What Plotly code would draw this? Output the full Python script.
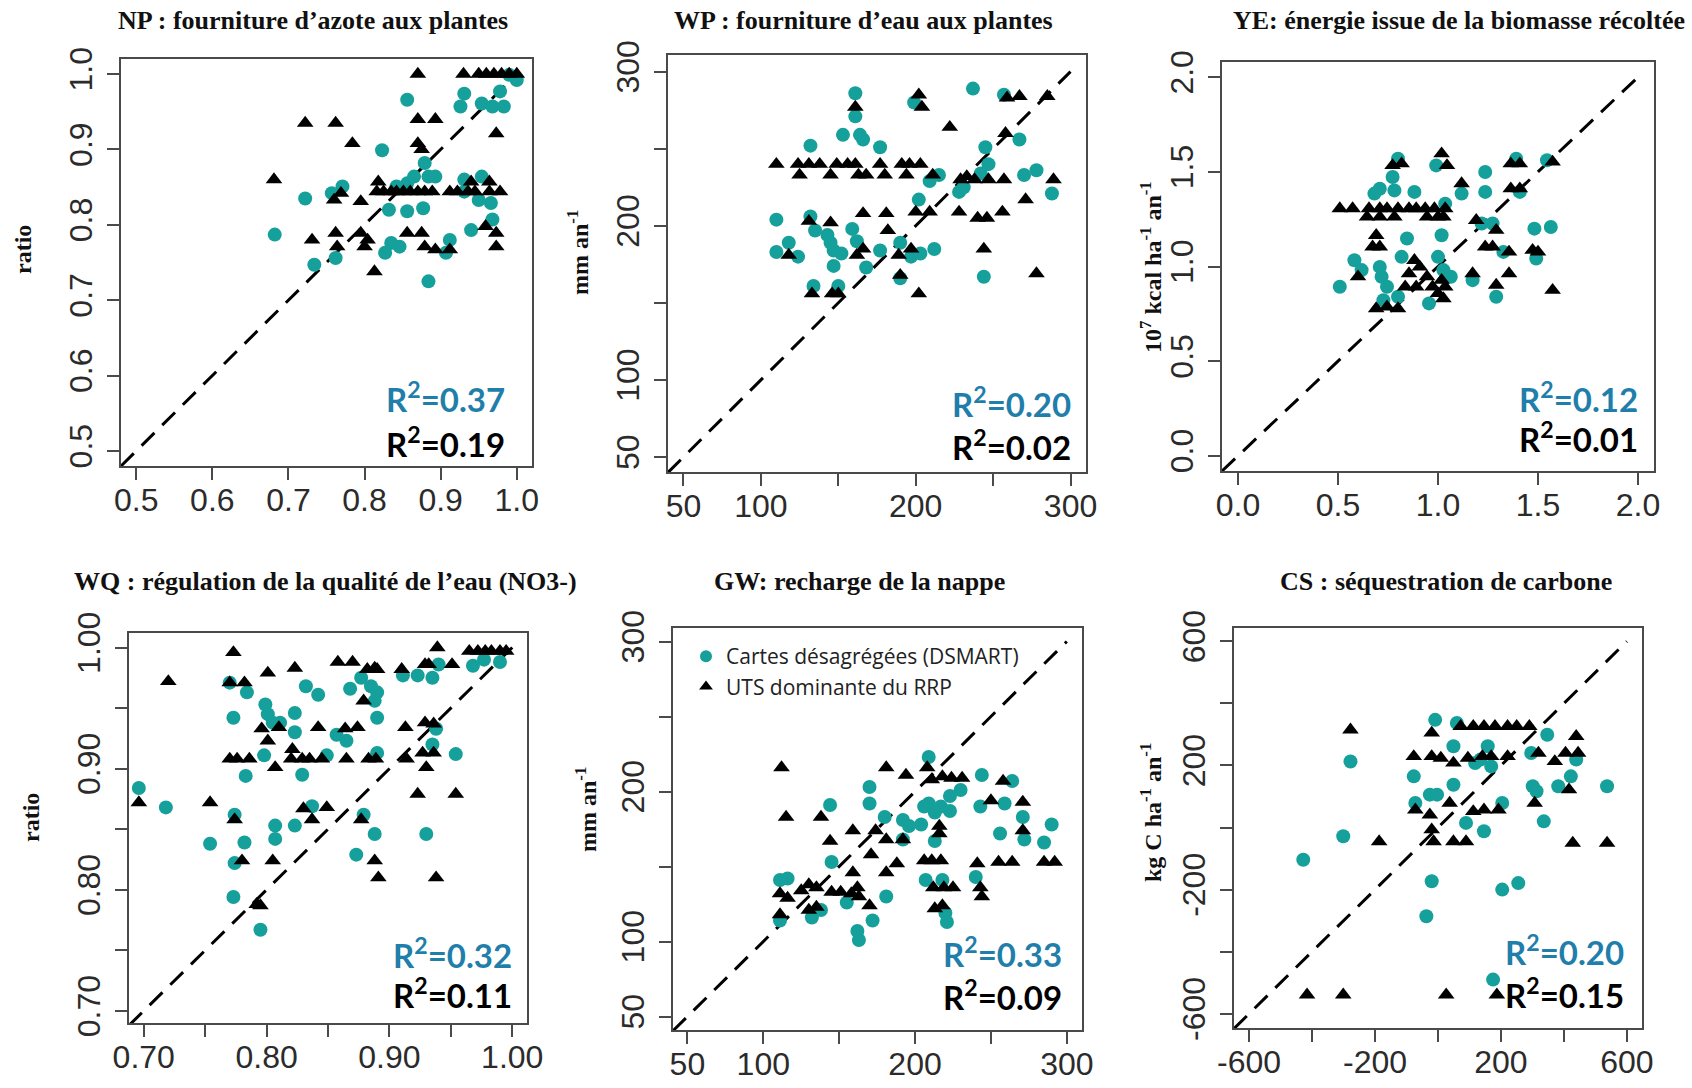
import plotly.graph_objects as go

W, H = 1692, 1088

# ---------------- data ----------------
np_dsmart = [(0.856,0.966),(0.931,0.974),(0.926,0.957),(0.954,0.961),(0.978,0.977),(0.968,0.957),(0.983,0.957),
             (1.0,0.992),(0.99,0.999),(0.823,0.899),(0.879,0.882),(0.884,0.864),(0.893,0.864),(0.856,0.855),
             (0.865,0.864),(0.722,0.835),(0.682,0.787),(0.734,0.747),(0.762,0.756),(0.771,0.851),(0.757,0.842),
             (0.832,0.82),(0.856,0.818),(0.877,0.822),(0.827,0.763),(0.846,0.771),(0.835,0.776),(0.884,0.725),
             (0.912,0.78),(0.907,0.763),(0.94,0.793),(0.95,0.833),(0.954,0.864),(0.931,0.86),(0.968,0.807),
             (0.966,0.829),(0.931,0.844),(0.842,0.851)]
np_uts = [(0.87,1.0),(0.93,1.0),(0.95,1.0),(0.96,1.0),(0.97,1.0),(0.98,1.0),(0.99,1.0),(1.0,1.0),
          (0.722,0.935),(0.762,0.935),(0.784,0.908),(0.87,0.94),(0.893,0.94),(0.87,0.908),(0.875,0.90),
          (0.973,0.921),(0.681,0.86),(0.816,0.844),(0.825,0.844),(0.835,0.844),(0.842,0.844),(0.851,0.844),
          (0.86,0.844),(0.87,0.844),(0.879,0.844),(0.889,0.844),(0.912,0.844),(0.922,0.844),(0.936,0.844),
          (0.945,0.844),(0.964,0.844),(0.978,0.844),(0.818,0.857),(0.94,0.857),(0.964,0.857),(0.76,0.833),
          (0.769,0.842),(0.795,0.831),(0.731,0.78),(0.762,0.789),(0.764,0.771),(0.795,0.789),(0.80,0.771),
          (0.804,0.78),(0.813,0.738),(0.856,0.789),(0.875,0.789),(0.879,0.771),(0.893,0.767),(0.912,0.767),
          (0.959,0.798),(0.973,0.789),(0.973,0.771)]

wp_dsmart = [(161,286),(161,271),(199,280),(237,289),(257,285),(153,259),(164,259),(166,256),(132,252),
             (177,251),(245,251),(267,256),(247,240),(242,234),(270,233),(278,236),(288,221),(228,222),
             (231,225),(202,217),(209,229),(215,233),(110,204),(132,206),(135,197),(143,194),(145,189),
             (110,183),(118,189),(124,180),(147,184),(152,182),(147,174),(159,198),(162,190),(168,173),
             (177,184),(190,189),(197,180),(203,182),(212,185),(134,161),(150,161),(190,166),(244,167)]
wp_uts = [(161,277),(202,285),(204,277),(222,264),(258,260),(259,283),(267,284),(285,284),
          (110,240),(124,240),(131,240),(138,240),(149,240),(156,240),(161,240),(177,240),(191,240),
          (196,240),(203,240),(125,233),(145,233),(163,233),(168,233),(180,233),(194,233),(211,233),
          (229,230),(233,232),(238,230),(247,230),(257,230),(289,230),(271,217),(228,209),(240,205),
          (246,205),(256,209),(166,208),(181,208),(200,209),(209,209),(131,203),(145,202),(182,197),
          (118,181),(166,185),(162,181),(189,181),(197,185),(244,185),(190,168),(278,169),
          (133,156),(146,156),(150,156),(202,156)]

ye_dsmart = [(0.8,1.569),(0.991,1.534),(0.773,1.473),(0.709,1.411),(0.682,1.385),(0.782,1.402),(0.882,1.394),
             (1.236,1.499),(1.236,1.394),(1.391,1.569),(1.545,1.561),(1.409,1.394),(1.036,1.332),(1.118,1.385),
             (0.845,1.148),(1.018,1.165),(1.218,1.227),(1.273,1.227),(1.482,1.2),(1.564,1.209),(1.327,1.077),
             (1.491,1.042),(0.509,0.893),(0.582,1.033),(0.618,0.981),(0.709,0.998),(0.718,0.946),(0.745,0.893),
             (0.818,1.051),(1.0,1.051),(1.027,0.981),(1.064,0.946),(0.955,0.805),(0.8,0.84),(0.727,0.822),
             (1.173,0.928),(1.291,0.84)]
ye_uts = [(1.018,1.596),(0.773,1.534),(0.818,1.543),(1.045,1.534),(1.118,1.438),(1.364,1.543),(1.409,1.543),
          (1.573,1.552),(1.364,1.411),(1.409,1.411),(0.509,1.306),(0.573,1.306),(0.655,1.306),(0.709,1.306),
          (0.745,1.306),(0.8,1.306),(0.855,1.306),(0.891,1.306),(0.936,1.306),(0.982,1.306),(1.036,1.306),
          (0.645,1.262),(0.709,1.262),(0.782,1.262),(0.945,1.262),(1.0,1.262),(1.027,1.262),(1.191,1.244),
          (1.291,1.192),(0.691,1.165),(0.709,1.104),(0.673,1.104),(1.236,1.104),(1.273,1.104),(1.355,1.077),
          (1.473,1.086),(1.5,1.077),(0.6,0.946),(0.882,1.033),(0.855,0.963),(0.909,0.998),(0.945,0.946),
          (0.973,0.893),(1.018,0.928),(1.0,0.858),(1.027,0.831),(1.036,0.893),(1.173,0.963),(1.355,0.963),
          (1.291,0.902),(1.573,0.875),(0.691,0.778),(0.745,0.787),(0.8,0.778),(0.836,0.893),(0.891,0.893)]

wq_dsmart = [(0.696,0.884),(0.718,0.868),(0.754,0.838),(0.773,0.942),(0.77,0.971),(0.784,0.963),(0.783,0.894),
             (0.774,0.862),(0.774,0.822),(0.773,0.794),(0.782,0.839),(0.795,0.767),(0.799,0.953),(0.801,0.945),
             (0.805,0.938),(0.798,0.911),(0.807,0.853),(0.807,0.842),(0.811,0.938),(0.823,0.946),(0.823,0.93),
             (0.823,0.853),(0.829,0.895),(0.832,0.968),(0.842,0.961),(0.837,0.869),(0.849,0.911),(0.857,0.928),
             (0.865,0.923),(0.868,0.966),(0.873,0.829),(0.879,0.862),(0.877,0.975),(0.885,0.968),(0.89,0.963),
             (0.888,0.956),(0.89,0.942),(0.888,0.846),(0.89,0.913),(0.911,0.977),(0.923,0.977),(0.935,0.975),
             (0.935,0.92),(0.938,0.933),(0.93,0.846),(0.954,0.912),(0.94,0.986),(0.968,0.985),(0.977,0.99),
             (0.99,0.988)]
wq_uts = [(0.696,0.872),(0.72,0.972),(0.754,0.872),(0.773,0.996),(0.77,0.971),(0.782,0.971),(0.77,0.908),
          (0.776,0.908),(0.786,0.908),(0.774,0.858),(0.78,0.824),(0.792,0.788),(0.795,0.787),(0.801,0.979),
          (0.796,0.933),(0.81,0.934),(0.801,0.923),(0.807,0.901),(0.805,0.824),(0.823,0.983),(0.821,0.916),
          (0.82,0.908),(0.829,0.908),(0.835,0.908),(0.830,0.867),(0.837,0.858),(0.842,0.934),(0.845,0.908),
          (0.849,0.868),(0.858,0.988),(0.87,0.988),(0.865,0.908),(0.864,0.933),(0.874,0.934),(0.879,0.956),
          (0.877,0.858),(0.882,0.982),(0.888,0.983),(0.89,0.982),(0.883,0.908),(0.889,0.908),(0.888,0.824),
          (0.891,0.81),(0.91,0.982),(0.913,0.934),(0.914,0.908),(0.923,0.879),(0.929,0.986),(0.932,0.986),
          (0.929,0.938),(0.936,0.937),(0.927,0.913),(0.936,0.913),(0.93,0.901),(0.939,1.0),(0.951,0.986),
          (0.954,0.879),(0.938,0.81),(0.965,0.997),(0.972,0.997),(0.978,0.997),(0.983,0.997),(0.99,0.997),
          (0.995,0.997)]

gw_dsmart = [(111,141),(116,142),(111,114),(132,116),(138,121),(144,191),(145,153),(155,126),(162,107),
             (163,101),(170,203),(170,192),(172,114),(181,130),(180,183),(192,181),(192,168),(196,177),
             (204,178),(209,223),(206,190),(209,192),(213,186),(217,190),(223,187),(207,141),(213,167),
             (218,141),(221,113),(220,119),(223,197),(230,201),(243,190),(244,211),(240,143),(259,192),
             (256,172),(264,207),(271,183),(272,168),(285,166),(290,178)]
gw_uts = [(112,216),(115,183),(111,118),(111,132),(116,129),(125,134),(130,138),(135,136),(130,121),
          (135,123),(138,183),(144,167),(145,133),(151,133),(159,174),(159,146),(158,132),(162,136),
          (163,130),(170,124),(171,158),(174,174),(181,216),(181,168),(192,168),(181,146),(188,152),
          (194,211),(206,154),(211,154),(217,154),(208,216),(211,208),(218,210),(224,209),(231,209),
          (216,177),(216,172),(212,136),(219,136),(213,122),(218,124),(225,136),(241,152),(243,136),
          (244,130),(250,194),(255,153),(264,153),(258,207),(271,193),(271,174),(285,153),(292,153)]

cs_dsmart = [(-428,-104),(-301,-28),(-278,213),(-77,165),(-72,79),(-26,106),(-3,106),(-9,347),(-20,-173),
             (-37,-286),(49,138),(60,337),(49,262),(89,15),(118,208),(146,-12),(158,262),(204,79),
             (204,-200),(255,-179),(175,-490),(301,133),(313,117),(336,20),(296,240),(347,299),(382,133),
             (422,165),(439,219),(537,133),(169,197),(135,219)]
cs_uts = [(-278,315),(-416,-539),(-301,-539),(26,-539),(187,-539),(-187,-45),(428,-50),(537,-50),(-20,305),
          (-77,229),(-20,229),(9,224),(49,208),(95,224),(141,229),(169,229),(221,229),(72,326),(112,326),
          (146,326),(181,326),(221,326),(250,326),(290,326),(319,240),(371,213),(405,240),(445,240),
          (439,294),(416,122),(307,79),(-72,57),(-26,41),(37,79),(112,52),(146,57),(192,57),(-20,-7),
          (-14,-45),(49,-45),(89,-45)]

titles = ["NP : fourniture d\u2019azote aux plantes", "WP : fourniture d\u2019eau aux plantes",
          "YE: \u00e9nergie issue de la biomasse r\u00e9colt\u00e9e",
          "WQ : r\u00e9gulation de la qualit\u00e9 de l\u2019eau (NO3-)", "GW: recharge de la nappe",
          "CS : s\u00e9questration de carbone"]
ylabels = ["ratio", "mm an<sup>-1</sup>", "10<sup>7</sup> kcal ha<sup>-1</sup> an<sup>-1</sup>",
           "ratio", "mm an<sup>-1</sup>", "kg C ha<sup>-1</sup> an<sup>-1</sup>"]
r2_dsmart = ["0.37", "0.20", "0.12", "0.32", "0.33", "0.20"]
r2_uts = ["0.19", "0.02", "0.01", "0.11", "0.09", "0.15"]

# labelled ticks and unlabelled (minor) ticks per axis
np_ticks = [0.5, 0.6, 0.7, 0.8, 0.9, 1.0]
np_ticktext = ["0.5", "0.6", "0.7", "0.8", "0.9", "1.0"]
np_minor = []
mm_ticks = [50, 100, 200, 300]
mm_ticktext = ["50", "100", "200", "300"]
mm_minor = [150, 250]
ye_ticks = [0.0, 0.5, 1.0, 1.5, 2.0]
ye_ticktext = ["0.0", "0.5", "1.0", "1.5", "2.0"]
ye_minor = []
wq_ticks = [0.70, 0.80, 0.90, 1.00]
wq_ticktext = ["0.70", "0.80", "0.90", "1.00"]
wq_minor = [0.75, 0.85, 0.95]
cs_ticks = [-600, -200, 200, 600]
cs_ticktext = ["-600", "-200", "200", "600"]
cs_minor = [-400, 0, 400]

series = [(np_dsmart, np_uts), (wp_dsmart, wp_uts), (ye_dsmart, ye_uts),
          (wq_dsmart, wq_uts), (gw_dsmart, gw_uts), (cs_dsmart, cs_uts)]
ticks = [(np_ticks, np_ticktext, np_minor), (mm_ticks, mm_ticktext, mm_minor),
         (ye_ticks, ye_ticktext, ye_minor), (wq_ticks, wq_ticktext, wq_minor),
         (mm_ticks, mm_ticktext, mm_minor), (cs_ticks, cs_ticktext, cs_minor)]

# ---------------- layout geometry (pixels) ----------------
boxes = [(121, 532, 59, 466), (668, 1086, 55, 472), (1222, 1654, 62, 471),
         (129, 527, 633, 1023), (673, 1082, 628, 1030), (1234, 1642, 628, 1028)]
xranges = [(0.48, 1.02), (40, 310), (-0.08, 2.08), (0.688, 1.012), (40.5, 310), (-648, 648)]
yranges = [(0.48, 1.02), (40.3, 310.8), (-0.08, 2.08), (0.690, 1.012), (41, 309), (-646, 643)]
title_pos = [(313, 21), (863, 21), (1459, 21), (325, 581), (860, 581), (1446, 581)]
ylab_pos = [(23, 250), (578, 253), (1151, 267), (31, 817), (586, 810), (1151, 813)]
r2_pos = [(507, 397, 442), (1073, 402, 445), (1640, 397, 437), (514, 953, 993), (1064, 952, 995), (1626, 950, 993)]

TEAL = "#15a09b"
R2BLUE = "#1f7eaa"
AXCOL = "#4a4a4a"
TICKFONT = dict(family="Liberation Sans Narrow, Arial Narrow, sans-serif", size=32, color="#2b2b2b")

fig = go.Figure()
layout = dict(width=W, height=H, margin=dict(l=0, r=0, t=0, b=0, autoexpand=False),
              paper_bgcolor="white", plot_bgcolor="white", showlegend=True)
annotations = []

for i in range(6):
    k = "" if i == 0 else str(i + 1)
    x0, x1, yt, yb = boxes[i]
    ds, ut = series[i]
    tv, tt, mv = ticks[i]
    lo = xranges[i][0]
    hi = tv[-1]
    fig.add_trace(go.Scatter(x=[lo, hi], y=[lo, hi], mode="lines",
                             line=dict(color="black", width=3, dash="18px,11px"),
                             showlegend=False, hoverinfo="skip", xaxis="x" + k, yaxis="y" + k))
    fig.add_trace(go.Scatter(x=[p[0] for p in ds], y=[p[1] for p in ds], mode="markers",
                             marker=dict(symbol="circle", size=14, color=TEAL),
                             name="Cartes d\u00e9sagr\u00e9g\u00e9es (DSMART)", legendgroup="a",
                             showlegend=(i == 4), xaxis="x" + k, yaxis="y" + k))
    fig.add_trace(go.Scatter(x=[p[0] for p in ut], y=[p[1] for p in ut], mode="markers",
                             marker=dict(symbol="triangle-up", size=14.5, color="black"),
                             name="UTS dominante du RRP", legendgroup="b",
                             showlegend=(i == 4), xaxis="x" + k, yaxis="y" + k))
    common = dict(showgrid=False, zeroline=False, showline=True, linecolor=AXCOL, linewidth=2,
                  mirror=True, ticks="outside", ticklen=12, tickwidth=2, tickcolor=AXCOL,
                  tickmode="array", tickvals=tv, ticktext=tt, tickfont=TICKFONT, automargin=False)
    if mv:
        common["minor"] = dict(tickmode="array", tickvals=mv, ticks="outside", ticklen=12,
                               tickwidth=2, tickcolor=AXCOL, showgrid=False)
    layout["xaxis" + k] = dict(common, domain=[x0 / W, x1 / W], range=list(xranges[i]),
                               anchor="y" + k, ticklabelstandoff=-7)
    layout["yaxis" + k] = dict(common, domain=[1 - yb / H, 1 - yt / H], range=list(yranges[i]),
                               anchor="x" + k, tickangle=-90, ticklabelstandoff=2)
    tx, ty = title_pos[i]
    annotations.append(dict(text="<b>" + titles[i] + "</b>", x=tx / W, y=1 - ty / H, xref="paper",
                            yref="paper", showarrow=False, xanchor="center", yanchor="middle",
                            font=dict(family="Liberation Serif, Times New Roman, serif", size=26,
                                      color="#111")))
    lx, ly = ylab_pos[i]
    annotations.append(dict(text="<b>" + ylabels[i] + "</b>", x=lx / W, y=1 - ly / H, xref="paper",
                            yref="paper", showarrow=False, textangle=-90, xanchor="center",
                            yanchor="middle",
                            font=dict(family="Liberation Serif, Times New Roman, serif", size=24,
                                      color="#111")))
    rx, ry1, ry2 = r2_pos[i]
    annotations.append(dict(text="<b>R<sup>2</sup>=" + r2_dsmart[i] + "</b>", x=rx / W, y=1 - ry1 / H,
                            xref="paper", yref="paper", showarrow=False, xanchor="right",
                            yanchor="middle", font=dict(family="Lato, Open Sans, sans-serif", size=33,
                                                        color=R2BLUE)))
    annotations.append(dict(text="<b>R<sup>2</sup>=" + r2_uts[i] + "</b>", x=rx / W, y=1 - ry2 / H,
                            xref="paper", yref="paper", showarrow=False, xanchor="right",
                            yanchor="middle", font=dict(family="Lato, Open Sans, sans-serif", size=33,
                                                        color="black")))

layout["annotations"] = annotations
layout["legend"] = dict(x=686 / W, y=1 - 636 / H, xanchor="left", yanchor="top",
                        bgcolor="rgba(0,0,0,0)", borderwidth=0, tracegroupgap=0,
                        itemsizing="constant",
                        font=dict(family="Open Sans, Lato, sans-serif", size=21, color="#222"))
fig.update_layout(**layout)
fig.write_html("out.html", config={"displayModeBar": False},
               post_script="document.body.style.margin='0px';")
